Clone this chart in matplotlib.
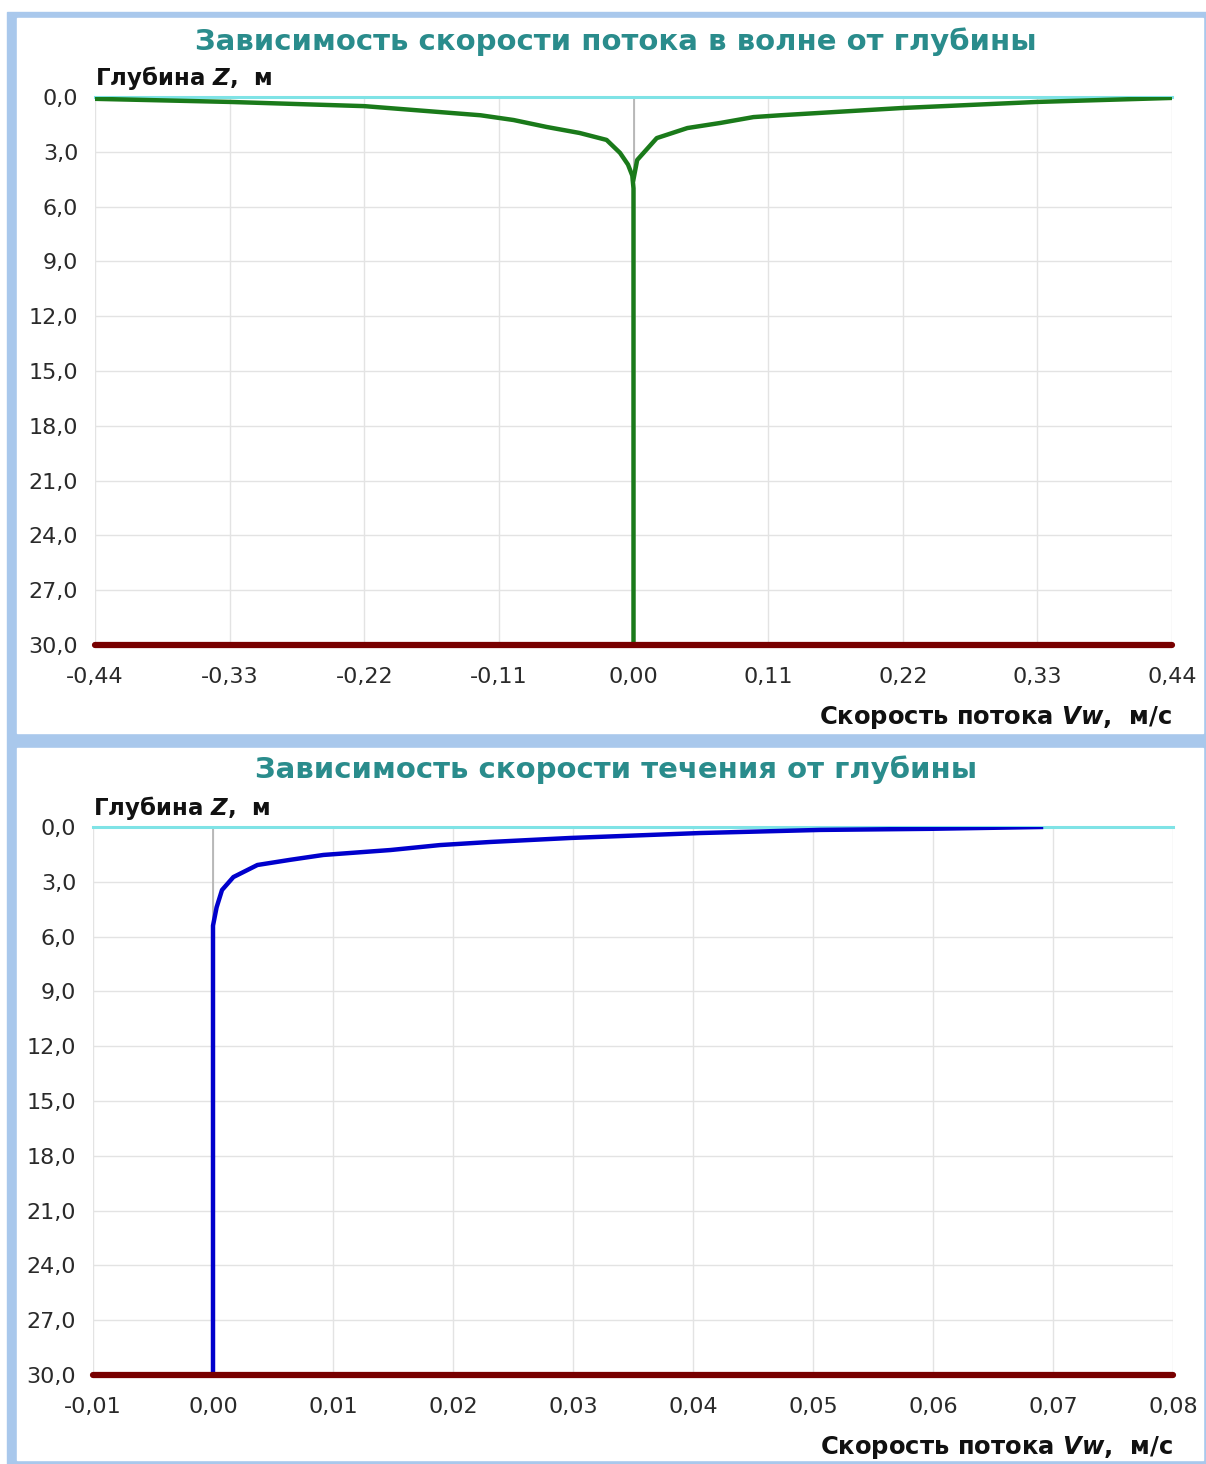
import matplotlib
matplotlib.use("Agg")
import matplotlib.pyplot as plt
import matplotlib.patches as patches
from matplotlib.ticker import FuncFormatter, MultipleLocator

plt.rcParams['font.family'] = ['DejaVu Sans']
plt.rcParams['mathtext.fontset'] = 'dejavusans'

# wave velocity profile (top panel)
wave_depth_left = [0.1, 0.27, 0.5, 1.0, 1.26, 1.64, 1.97, 2.35, 3.06, 3.7, 4.3, 5.0, 30.0]
wave_vel_left = [-0.44, -0.33, -0.22, -0.125, -0.098, -0.071, -0.044, -0.022, -0.011, -0.0045, -0.001, 0.0, 0.0]
wave_depth_right = [0.05, 0.27, 0.6, 1.0, 1.1, 1.42, 1.7, 2.25, 3.45, 4.5]
wave_vel_right = [0.44, 0.33, 0.22, 0.12, 0.098, 0.071, 0.044, 0.019, 0.003, 0.0]

# current velocity profile (bottom panel)
cur_depth = [0.0, 0.1, 0.16, 0.33, 0.6, 0.82, 0.99, 1.26, 1.53, 1.8, 2.08, 2.74, 3.45, 4.4, 5.4, 30.0]
cur_vel = [0.069, 0.0597, 0.0506, 0.0406, 0.0298, 0.0231, 0.0189, 0.0148, 0.0092, 0.0064,
           0.0037, 0.0017, 0.00075, 0.0003, 0.0, 0.0]

titles = ["Зависимость скорости потока в волне от глубины",
          "Зависимость скорости течения от глубины"]
ylabel = r"Глубина $\mathbfit{Z}$,  м"
xlabel = r"Скорость потока $\mathbfit{Vw}$,  м/с"

W, H = 1206, 1464
fig = plt.figure(figsize=(W / 100, H / 100), dpi=100)

# panel frames
frame_col = '#a9c8ec'
fig.patches.append(patches.Rectangle((7 / W, 0), 1 - 7 / W, 1 - 12 / H, transform=fig.transFigure,
                                     color=frame_col, zorder=-10))
fig.patches.append(patches.Rectangle((17 / W, 1 - 733 / H), (1203 - 17) / W, (733 - 18) / H,
                                     transform=fig.transFigure, color='white', zorder=-9))
fig.patches.append(patches.Rectangle((17 / W, 1 - 1460 / H), (1203 - 17) / W, (1460 - 748) / H,
                                     transform=fig.transFigure, color='white', zorder=-9))


def fmt(dec):
    def f(v, pos):
        if abs(v) < 1e-9:
            v = 0.0
        return f"{v:.{dec}f}".replace('.', ',')
    return FuncFormatter(f)


def setup(ax, xmin, xmax, xstep, title, y_top):
    ax.patch.set_alpha(0)
    ax.set_xlim(xmin, xmax)
    ax.set_ylim(30, 0)
    ax.xaxis.set_major_locator(MultipleLocator(xstep))
    ax.yaxis.set_major_locator(MultipleLocator(3))
    ax.xaxis.set_major_formatter(fmt(2))
    ax.yaxis.set_major_formatter(fmt(1))
    ax.grid(color='#e3e3e3', linewidth=1)
    ax.set_axisbelow(True)
    for s in ax.spines.values():
        s.set_visible(False)
    ax.tick_params(length=0, labelsize=16, labelcolor='#2a2a2a')
    ax.tick_params(axis='x', pad=16)
    ax.tick_params(axis='y', pad=12)
    ax.axvline(0, color='#b0b0b0', linewidth=1.2, zorder=1)
    ax.axhline(0, color='#7fe3e6', linewidth=2.2, zorder=2, clip_on=False)
    ax.axhline(30, color='#780000', linewidth=4.5, solid_capstyle='round', zorder=5, clip_on=False)
    fig.text(616 / W, y_top, title, ha='center', va='center',
             fontsize=21, fontweight='bold', color='#2a8c8c')
    ax.text(0, 1.035, ylabel, transform=ax.transAxes, ha='left', va='center',
            fontsize=16.5, fontweight='bold', color='#111111')
    ax.text(1, -0.133, xlabel, transform=ax.transAxes, ha='right', va='center',
            fontsize=17.5, fontweight='bold', color='#111111')


ax1 = fig.add_axes([95 / W, 1 - 645 / H, 1077 / W, 548 / H])
setup(ax1, -0.44, 0.44, 0.11, titles[0], 1 - 42 / H)
ax1.plot(wave_vel_left, wave_depth_left, color='#1a7a1a', linewidth=3.2, zorder=3)
ax1.plot(wave_vel_right, wave_depth_right, color='#1a7a1a', linewidth=3.2, zorder=3)

ax2 = fig.add_axes([93 / W, 1 - 1375 / H, 1080 / W, 548 / H])
setup(ax2, -0.01, 0.08, 0.01, titles[1], 1 - 770 / H)
ax2.plot(cur_vel, cur_depth, color='#0000cc', linewidth=3.2, zorder=3)

fig.savefig('out.png', dpi=100)
